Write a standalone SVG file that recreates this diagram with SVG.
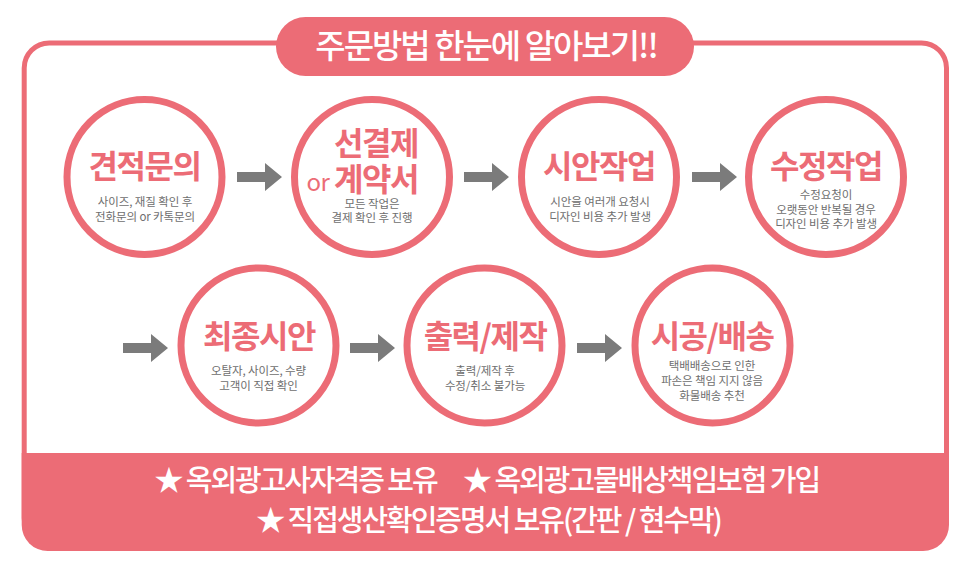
<svg xmlns="http://www.w3.org/2000/svg" width="966" height="574" viewBox="0 0 966 574">
<style>
text{font-family:"Noto Sans CJK KR","Noto Sans",sans-serif;text-anchor:middle}
.c{fill:#fff;stroke:#ec6c76;stroke-width:7}
.h{fill:#ec6c76;font-size:32px;font-weight:700;letter-spacing:-1.500px}
.s{fill:#6e6e6e;font-size:11.500px;letter-spacing:-.1px}
.w{fill:#fff;font-size:29px;font-weight:500;letter-spacing:-2.050px}
</style>
<defs><path id="a" d="M0-5H28V-14L45 0 28 14V5H0Z" fill="#7b7b7b"/></defs>
<rect width="966" height="574" fill="#fff"/>
<g id="frame">
<rect x="24.200" y="43" width="922.300" height="500" rx="25" fill="#fff" stroke="#ec6c76" stroke-width="5"/>
<path d="M21.700 453H949V525a26 26 0 0 1-26 26H47.700a26 26 0 0 1-26-26Z" fill="#ec6c76"/>
</g>
<g id="title">
<rect x="276" y="17" width="418" height="59" rx="29.500" fill="#ec6c76"/>
<text x="486" y="58" fill="#fff" font-size="33" font-weight="500" letter-spacing="-2">주문방법 한눈에 알아보기!!</text>
</g>
<g id="connectors">
<use href="#a" x="237" y="177"/><use href="#a" x="464" y="177"/><use href="#a" x="692" y="177"/>
<use href="#a" x="123" y="348"/><use href="#a" x="350" y="348"/><use href="#a" x="577" y="348"/>
</g>
<g id="n1"><circle class="c" cx="144.500" cy="177" r="77.500"/>
<text class="h" x="144.500" y="178">견적문의</text>
<text class="s" x="145" y="206">사이즈, 재질 확인 후</text><text class="s" x="145" y="221">전화문의 or 카톡문의</text></g>
<g id="n2"><circle class="c" cx="372" cy="177" r="77.500"/>
<text class="h" x="376" y="155">선결제</text>
<text class="h" x="376" y="191">계약서</text>
<text x="318" y="191" fill="#ec6c76" font-size="24" letter-spacing="-.5">or</text>
<text class="s" x="372" y="208">모든 작업은</text><text class="s" x="372" y="222">결제 확인 후 진행</text></g>
<g id="n3"><circle class="c" cx="599" cy="177" r="77.500"/>
<text class="h" x="599" y="178">시안작업</text>
<text class="s" x="600" y="206">시안을 여러개 요청시</text><text class="s" x="600" y="221">디자인 비용 추가 발생</text></g>
<g id="n4"><circle class="c" cx="826" cy="177" r="77.500"/>
<text class="h" x="826" y="178">수정작업</text>
<text class="s" x="826" y="199">수정요청이</text><text class="s" x="826" y="214">오랫동안 반복될 경우</text><text class="s" x="826" y="228">디자인 비용 추가 발생</text></g>
<g id="n5"><circle class="c" cx="258.500" cy="345.500" r="77.500"/>
<text class="h" x="259" y="348">최종시안</text>
<text class="s" x="258.500" y="375">오탈자, 사이즈, 수량</text><text class="s" x="258.500" y="390">고객이 직접 확인</text></g>
<g id="n6"><circle class="c" cx="484.500" cy="345.500" r="77.500"/>
<text class="h" x="485" y="348">출력/제작</text>
<text class="s" x="485" y="375">출력/제작 후</text><text class="s" x="485" y="390">수정/취소 불가능</text></g>
<g id="n7"><circle class="c" cx="712.500" cy="345.500" r="77.500"/>
<text class="h" x="712" y="348">시공/배송</text>
<text class="s" x="712" y="370">택배배송으로 인한</text><text class="s" x="712" y="385">파손은 책임 지지 않음</text><text class="s" x="712" y="400">화물배송 추천</text></g>
<g id="footer">
<text class="w" x="295.500" y="491">★ 옥외광고사자격증 보유</text>
<text class="w" x="641" y="491">★ 옥외광고물배상책임보험 가입</text>
<text class="w" x="488.500" y="531">★ 직접생산확인증명서 보유(간판 / 현수막)</text>
</g>
</svg>
